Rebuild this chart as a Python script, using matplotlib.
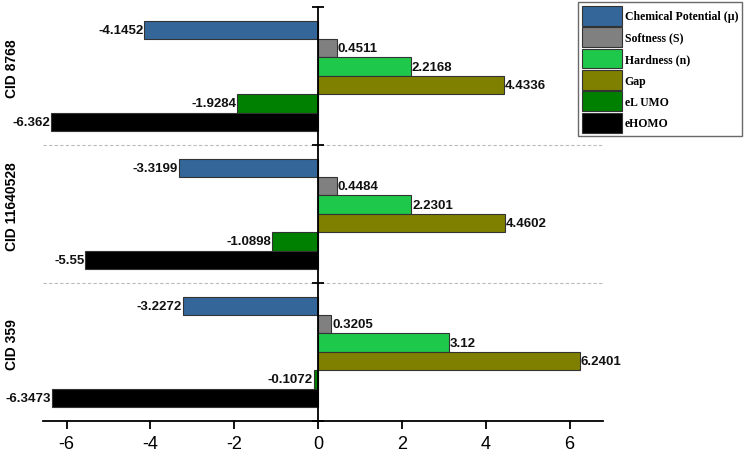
import numpy as np
import matplotlib
matplotlib.use("Agg")
import matplotlib.pyplot as plt
import matplotlib.transforms as mtransforms

compounds = ["CID 8768", "CID 11640528", "CID 359"]
series = ["Chemical Potential (µ)", "Softness (S)", "Hardness (n)", "Gap", "eL UMO", "eHOMO"]
colors = ["#346699", "#808080", "#1ec84a", "#808000", "#008000", "#000000"]

chem_potential = [-4.1452, -3.3199, -3.2272]
softness = [0.4511, 0.4484, 0.3205]
hardness = [2.2168, 2.2301, 3.12]
gap = [4.4336, 4.4602, 6.2401]
e_lumo = [-1.9284, -1.0898, -0.1072]
e_homo = [-6.362, -5.55, -6.3473]
values = [chem_potential, softness, hardness, gap, e_lumo, e_homo]
value_text = [["-4.1452", "-3.3199", "-3.2272"],
              ["0.4511", "0.4484", "0.3205"],
              ["2.2168", "2.2301", "3.12"],
              ["4.4336", "4.4602", "6.2401"],
              ["-1.9284", "-1.0898", "-0.1072"],
              ["-6.362", "-5.55", "-6.3473"]]

plt.rcParams['font.family'] = ['Liberation Sans', 'DejaVu Sans']
plt.rcParams['axes.unicode_minus'] = False

fig = plt.figure(figsize=(7.47, 4.56), dpi=100)
ax = fig.add_axes([0.0576, 0.0746, 0.7497, 0.9079])

bar_h = 0.133
base = np.arange(len(compounds))
for i, (name, vals, col) in enumerate(zip(series, values, colors)):
    y = base - 0.4 + bar_h * (i + 0.5)
    ax.barh(y, vals, height=bar_h, color=col, edgecolor="#333333",
            linewidth=0.8, label=name, zorder=2)
    for yy, v, t in zip(y, vals, value_text[i]):
        if v < 0:
            ax.text(v - 0.02, yy, t, ha="right", va="center",
                    fontsize=9.5, fontweight="bold", color="#111111")
        else:
            ax.text(v + 0.02, yy, t, ha="left", va="center",
                    fontsize=9.5, fontweight="bold", color="#111111")

ax.set_xlim(-6.56, 6.8)
ax.set_ylim(2.5, -0.5)

# separators between compounds
for yb in [0.5, 1.5]:
    ax.axhline(yb, color="#bbbbbb", linestyle=(0, (3, 2)), linewidth=0.8, zorder=1)

ax.spines["top"].set_visible(False)
ax.spines["right"].set_visible(False)
ax.spines["left"].set_position(("data", 0))
ax.spines["left"].set_linewidth(1.3)
ax.spines["bottom"].set_linewidth(1.3)
ax.spines["left"].set_zorder(3)

ax.set_yticks([-0.5, 0.5, 1.5, 2.5])
ax.set_yticklabels([])
ax.tick_params(axis="y", direction="inout", length=9, width=1.3)
ax.set_xticks([-6, -4, -2, 0, 2, 4, 6])
ax.tick_params(axis="x", direction="out", length=6, width=1.3,
               labelsize=13, pad=4)

# compound names at the left edge
trans = mtransforms.blended_transform_factory(fig.transFigure, ax.transData)
for k, c in enumerate(compounds):
    ax.text(0.016, k - 0.06, c, rotation=90, ha="center", va="center",
            fontsize=10, fontweight="bold", transform=trans)

leg = ax.legend(loc="upper left", bbox_to_anchor=(0.774, 0.993),
                bbox_transform=fig.transFigure, frameon=True, fancybox=False,
                handlelength=3.4, handleheight=2.2, labelspacing=0.14,
                handletextpad=0.25, borderpad=0.3, borderaxespad=0,
                prop={"family": "Liberation Serif", "weight": "bold", "size": 8.5})
leg.get_frame().set_edgecolor("#444444")
leg.get_frame().set_linewidth(1.0)

fig.savefig("out.png", dpi=100)
